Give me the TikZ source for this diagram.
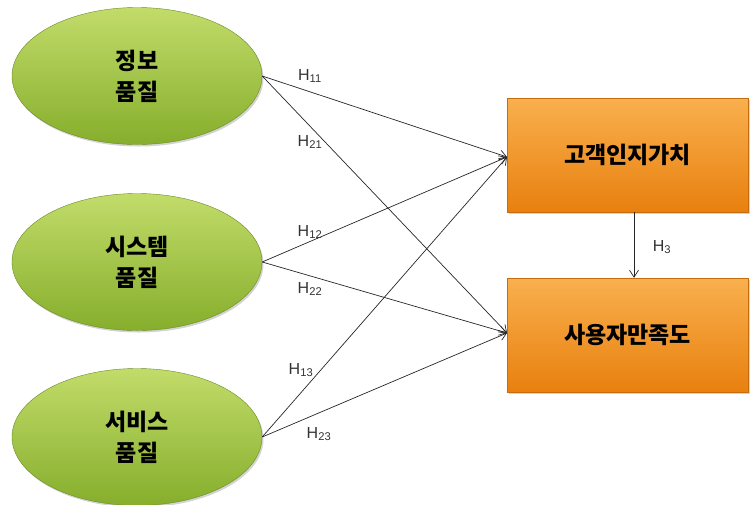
\documentclass[tikz,border=0pt]{standalone}
\usepackage{fontspec}
\setmainfont{Liberation Sans}
\newfontfamily\kr{Noto Sans CJK KR}
\usetikzlibrary{shapes.geometric,shadows,arrows.meta}
\definecolor{gtop}{HTML}{C2DC6A}
\definecolor{gbot}{HTML}{86AE2C}
\definecolor{otop}{HTML}{F9B04E}
\definecolor{obot}{HTML}{E8800F}
\tikzset{
  oval/.style={ellipse, minimum width=250pt, minimum height=137pt, inner sep=0pt,
    top color=gtop, bottom color=gbot, draw=gbot!80!black, line width=0.4pt,
    drop shadow={opacity=0.35, shadow xshift=1.5pt, shadow yshift=-2pt},
    font=\kr\bfseries\fontsize{23}{31}\selectfont, align=center},
  box/.style={rectangle, minimum width=241pt, minimum height=114pt, inner sep=0pt,
    top color=otop, bottom color=obot, draw=obot!85!black, line width=0.4pt,
    drop shadow={opacity=0.35, shadow xshift=1.5pt, shadow yshift=-2pt},
    font=\kr\bfseries\fontsize{23}{27}\selectfont},
  link/.style={draw=black!85, line width=0.7pt, -{Straight Barb[length=7pt,width=9pt]}},
  hl/.style={font=\fontsize{16}{18}\selectfont, text=black!80, inner sep=0pt}
}
\begin{document}
\begin{tikzpicture}[x=1pt,y=-1pt]
\useasboundingbox (0,0) rectangle (752,504);
\node[oval] (a) at (137,76) {정보\\품질};
\node[oval] (b) at (137,262) {시스템\\품질};
\node[oval] (c) at (137,437) {서비스\\품질};
\node[box] (p) at (627.5,155) {고객인지가치};
\node[box] (q) at (627.5,335) {사용자만족도};
\coordinate (pin) at (507,157);
\coordinate (qin) at (507,333);
\draw[link] (a.east) -- (pin);
\draw[link] (a.east) -- (qin);
\draw[link] (b.east) -- (pin);
\draw[link] (b.east) -- (qin);
\draw[link] (c.east) -- (pin);
\draw[link] (c.east) -- (qin);
\draw[link] (p.south -| 634,0) -- (q.north -| 634,0);
\node[hl] (h11) at (310,76) {H\textsubscript{11}};
\node[hl] (h21) at (310,142) {H\textsubscript{21}};
\node[hl] (h12) at (310,232) {H\textsubscript{12}};
\node[hl] (h22) at (310,289) {H\textsubscript{22}};
\node[hl] (h13) at (301,370) {H\textsubscript{13}};
\node[hl] (h23) at (319,434) {H\textsubscript{23}};
\node[hl] (h3) at (662,247) {H\textsubscript{3}};
\end{tikzpicture}
\end{document}
